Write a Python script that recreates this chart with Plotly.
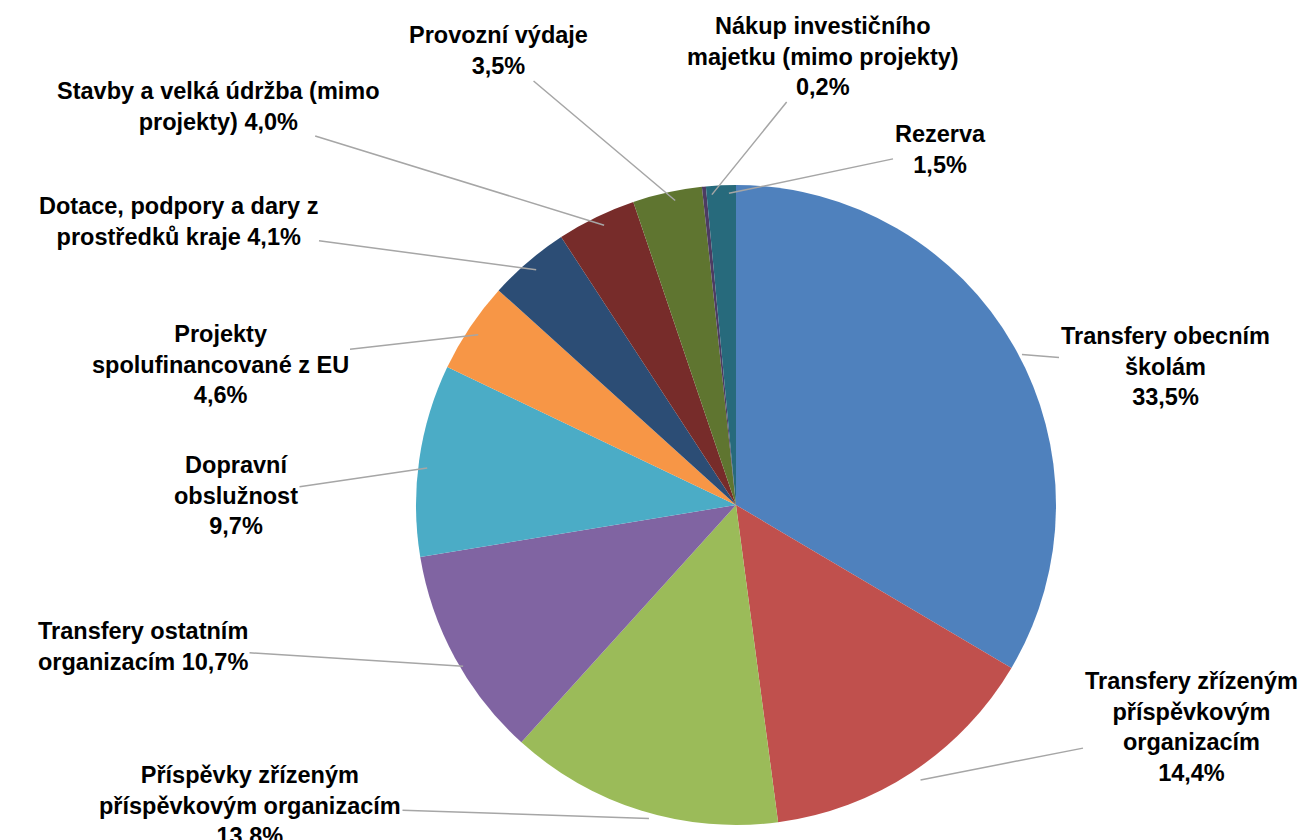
import plotly.graph_objects as go
import math

# ---- data ----
categories = [
    "Transfery obecním<br>školám",
    "Transfery zřízeným<br>příspěvkovým<br>organizacím",
    "Příspěvky zřízeným<br>příspěvkovým organizacím",
    "Transfery ostatním<br>organizacím",
    "Dopravní<br>obslužnost",
    "Projekty<br>spolufinancované z EU",
    "Dotace, podpory a dary z<br>prostředků kraje",
    "Stavby a velká údržba (mimo<br>projekty)",
    "Provozní výdaje",
    "Nákup investičního<br>majetku (mimo projekty)",
    "Rezerva",
]
shares = [33.5, 14.4, 13.8, 10.7, 9.7, 4.6, 4.1, 4.0, 3.5, 0.2, 1.5]

# ---- style / layout ----
colors = ["#4F81BD", "#C0504D", "#9BBB59", "#8064A2", "#4BACC6", "#F79646",
          "#2C4D75", "#772C2A", "#5F7530", "#4D3B62", "#276A7C"]
pct_sep = ["<br>", "<br>", "<br>", " ", "<br>", "<br>", " ", " ", "<br>", "<br>", "<br>"]
# label block centres in pixels (layout placement)
label_px = [(1157, 358), (1183, 719), (242, 797), (135, 638), (228, 488), (212, 356),
            (170, 214), (210, 98), (490, 43), (815, 49), (932, 141)]

W, H = 1310, 840
cx, cy, R = 736, 505, 320  # target pie centre / radius in pixels
dx, dy = 8, 8              # renderer offset correction

fig = go.Figure(go.Pie(
    labels=[c.replace("<br>", " ") for c in categories],
    values=shares,
    sort=False,
    direction="clockwise",
    rotation=0,
    marker=dict(colors=colors, line=dict(width=0)),
    textinfo="none",
    hoverinfo="label+percent",
    domain=dict(x=[(cx - dx - R) / W, (cx - dx + R) / W],
                y=[(H - cy + dy - R) / H, (H - cy + dy + R) / H]),
    showlegend=False,
))

total = sum(shares)
cum = 0.0
annotations = []
for cat, v, sep, (lx, ly) in zip(categories, shares, pct_sep, label_px):
    mid = (cum + v / 2) / total * 2 * math.pi
    cum += v
    px = cx + R * math.sin(mid)
    py = cy - R * math.cos(mid)
    txt = cat + sep + f"{v:.1f}".replace(".", ",") + "%"
    annotations.append(dict(
        x=px / W, y=1 - py / H, xref="paper", yref="paper",
        ax=lx - px, ay=ly - py, axref="pixel", ayref="pixel",
        text=txt, showarrow=True, arrowhead=0, arrowwidth=1.5,
        arrowcolor="#A6A6A6", standoff=0, startstandoff=0,
        font=dict(family="Liberation Sans, Arial, sans-serif",
                  size=23.5, color="#000000", weight="bold"),
        align="center", xanchor="center", yanchor="middle",
    ))

fig.update_layout(
    width=W, height=H,
    margin=dict(l=0, r=0, t=0, b=0),
    paper_bgcolor="#FFFFFF",
    plot_bgcolor="#FFFFFF",
    annotations=annotations,
)

fig.write_html("out.html")
